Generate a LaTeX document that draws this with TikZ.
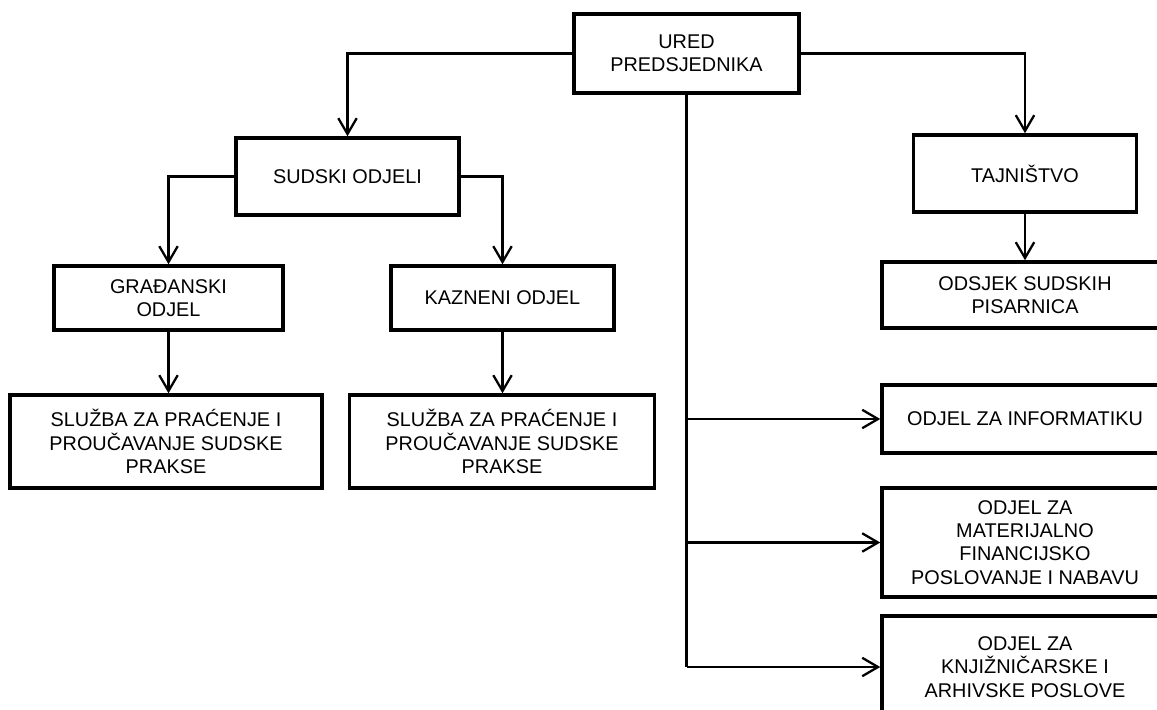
\documentclass[tikz,border=0pt]{standalone}
\usepackage{fontspec}
\setmainfont{Liberation Sans}
\usetikzlibrary{arrows.meta}

\tikzstyle{box}=[rectangle,draw=black,line width=2pt,inner sep=0pt,align=center,font=\fontsize{11.3}{13.2}\selectfont]
\tikzstyle{link}=[line width=1.3pt]

\begin{document}
\begin{tikzpicture}[x=0.02cm, y=-0.02cm, >={Straight Barb[length=9pt,width=10.5pt]}]

	\useasboundingbox (0,0) rectangle (1157,710);

	% Vrh
	\node(ured) at (686.5,53.5) [box, minimum width=4.5cm, minimum height=1.58cm] {URED\\PREDSJEDNIKA};

	% Lijeva strana
	\node(sudski) at (347.5,176.5) [box, minimum width=4.46cm, minimum height=1.54cm] {SUDSKI ODJELI};
	\node(gradjanski) at (168.5,298) [box, minimum width=4.58cm, minimum height=1.28cm] {GRAĐANSKI\\ODJEL};
	\node(kazneni) at (502.5,298) [box, minimum width=4.46cm, minimum height=1.28cm] {KAZNENI ODJEL};
	\node(sluzbaG) at (166,441.5) [box, minimum width=6.24cm, minimum height=1.86cm] {SLUŽBA ZA PRAĆENJE I\\PROUČAVANJE SUDSKE\\PRAKSE};
	\node(sluzbaK) at (502,441.5) [box, minimum width=6.1cm, minimum height=1.86cm] {SLUŽBA ZA PRAĆENJE I\\PROUČAVANJE SUDSKE\\PRAKSE};

	% Desna strana
	\node(tajnistvo) at (1025,173.5) [box, minimum width=4.46cm, minimum height=1.54cm] {TAJNIŠTVO};
	\node(odsjek) at (1025,295) [box, minimum width=5.72cm, minimum height=1.32cm] {ODSJEK SUDSKIH\\PISARNICA};
	\node(informatika) at (1025,419) [box, minimum width=5.72cm, minimum height=1.36cm] {ODJEL ZA INFORMATIKU};
	\node(materijalno) at (1025,542.5) [box, minimum width=5.72cm, minimum height=2.18cm] {ODJEL ZA\\MATERIJALNO\\FINANCIJSKO\\POSLOVANJE I NABAVU};
	\node(knjiznica) at (1025,667) [box, minimum width=5.72cm, minimum height=2.04cm] {ODJEL ZA\\KNJIŽNIČARSKE I\\ARHIVSKE POSLOVE};

	\draw[->, link] (ured.west) -| (sudski.north);
	\draw[->, link] (ured.east) -| (tajnistvo.north);
	\draw[->, link] (sudski.west) -| (gradjanski.north);
	\draw[->, link] (sudski.east) -| (kazneni.north);
	\draw[->, link] (gradjanski.south) -- (gradjanski.south |- sluzbaG.north);
	\draw[->, link] (kazneni.south) -- (kazneni.south |- sluzbaK.north);
	\draw[->, link] (tajnistvo.south) -- (tajnistvo.south |- odsjek.north);

	% Okomita linija i odjeli
	\draw[link] (ured.south) -- (ured.south |- knjiznica.west);
	\foreach \odjel in {informatika, materijalno, knjiznica}
		{
			\draw[->, link] (ured.south |- \odjel.west) -- (\odjel.west);
		}

\end{tikzpicture}
\end{document}
